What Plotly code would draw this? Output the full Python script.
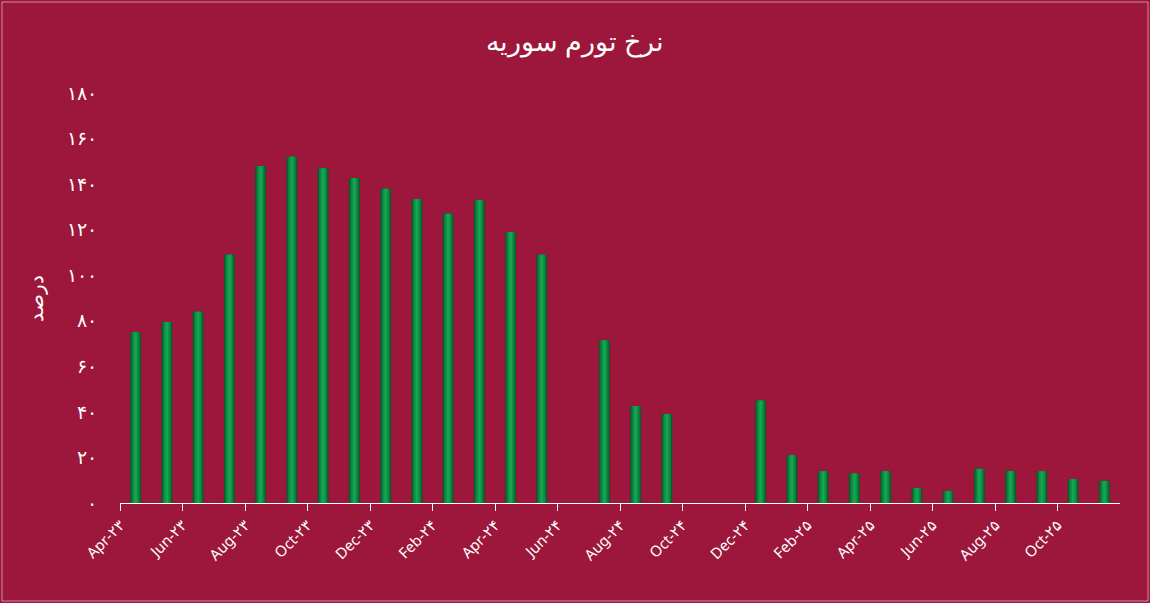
import plotly.graph_objects as go

months = ["Apr-23","May-23","Jun-23","Jul-23","Aug-23","Sep-23","Oct-23","Nov-23","Dec-23",
          "Jan-24","Feb-24","Mar-24","Apr-24","May-24","Jun-24","Jul-24","Aug-24","Sep-24",
          "Oct-24","Nov-24","Dec-24","Jan-25","Feb-25","Mar-25","Apr-25","May-25","Jun-25",
          "Jul-25","Aug-25","Sep-25","Oct-25","Nov-25"]
values = [75, 79.5, 84, 109, 148, 152, 147, 142.7, 138, 133.5, 127, 133, 119, 109, None,
          71.5, 42.6, 39, None, None, 45, 21, 14, 13, 14, 6.6, 5.3, 15, 14, 14, 10.5, 9.7]
tick_labels = ["Apr-۲۳","Jun-۲۳","Aug-۲۳","Oct-۲۳","Dec-۲۳","Feb-۲۴","Apr-۲۴","Jun-۲۴",
               "Aug-۲۴","Oct-۲۴","Dec-۲۴","Feb-۲۵","Apr-۲۵","Jun-۲۵","Aug-۲۵","Oct-۲۵"]
y_ticks = [0, 20, 40, 60, 80, 100, 120, 140, 160, 180]
y_labels = ["۰","۲۰","۴۰","۶۰","۸۰","۱۰۰","۱۲۰","۱۴۰","۱۶۰","۱۸۰"]

L, R, T, B = 120, 30, 93, 100
W, H = 1150, 603
x = list(range(len(months)))
bg = "#9C173B"
fig = go.Figure()
layers = [(0.35, "#0A5A2C"), (0.27, "#0C7A3A"), (0.18, "#0F9247"), (0.08, "#14A552")]
for w, c in layers:
    fig.add_trace(go.Bar(x=x, y=values, width=w, marker=dict(color=c, line=dict(width=0)),
                         hoverinfo="skip", showlegend=False))
pw, ph = W - L - R, H - T - B
fig.update_layout(
    barmode="overlay", width=W, height=H,
    paper_bgcolor=bg, plot_bgcolor=bg,
    margin=dict(l=L, r=R, t=T, b=B),
    title=dict(text="نرخ تورم سوریه", x=0.5, y=1 - 42 / H, xanchor="center", yanchor="middle",
               font=dict(family="Noto Sans", size=27, color="white")),
    font=dict(family="Noto Sans", color="white"),
    xaxis=dict(range=[-0.5, len(months) - 0.5], tickmode="array",
               tickvals=[i - 0.5 for i in range(0, len(months), 2)], ticktext=tick_labels,
               tickangle=-45, ticks="outside", ticklen=7, tickcolor="white",
               showline=True, linecolor="white", linewidth=1, showgrid=False,
               tickfont=dict(size=15, color="white"), zeroline=False),
    yaxis=dict(range=[0, 180], tickmode="array", tickvals=y_ticks, ticktext=y_labels,
               showgrid=False, zeroline=False, ticks="", ticklabelstandoff=22,
               tickfont=dict(size=19, color="white"),
               title=dict(text="درصد", font=dict(size=20, color="white"), standoff=18)),
    shapes=[dict(type="rect", xref="paper", yref="paper",
                 x0=-(L - 2) / pw, x1=1 + (R - 2) / pw, y0=-(B - 2) / ph, y1=1 + (T - 2) / ph,
                 line=dict(color="rgba(255,255,255,0.5)", width=1))],
)
fig.write_html("out.html", config={"displayModeBar": False},
               post_script="document.body.style.margin='0';document.body.style.background='#9C173B';")
